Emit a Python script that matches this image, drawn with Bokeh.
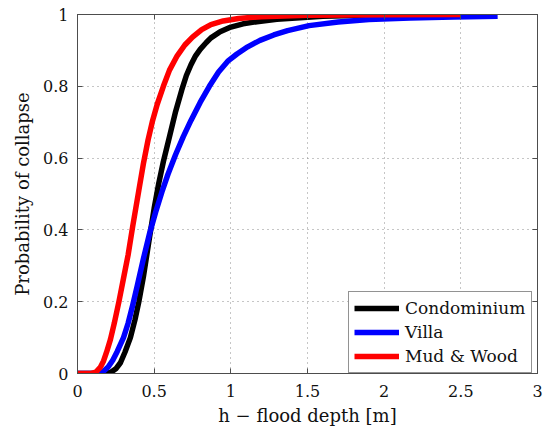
from bokeh.plotting import figure
from bokeh.models import FixedTicker, LinearAxis, Range1d
from bokeh.embed import file_html
from bokeh.resources import INLINE

# ---- data ----
x_ticks = [0, 0.5, 1, 1.5, 2, 2.5, 3]
x_tick_labels = ["0", "0.5", "1", "1.5", "2", "2.5", "3"]
y_ticks = [0, 0.2, 0.4, 0.6, 0.8, 1]
y_tick_labels = ["0", "0.2", "0.4", "0.6", "0.8", "1"]

condo_h = [0, 0.19, 0.22, 0.25, 0.28, 0.31, 0.345, 0.375, 0.40, 0.43, 0.47,
           0.50, 0.53, 0.56, 0.60, 0.64, 0.68, 0.71, 0.74, 0.77, 0.80, 0.84,
           0.87, 0.93, 1.0, 1.08, 1.17, 1.3, 1.6, 2.0, 2.5]
condo_p = [0, 0, 0.004, 0.013, 0.03, 0.06, 0.1, 0.15, 0.2, 0.27, 0.38,
           0.46, 0.53, 0.59, 0.66, 0.73, 0.79, 0.83, 0.86, 0.885, 0.903, 0.922,
           0.935, 0.952, 0.965, 0.974, 0.98, 0.987, 0.995, 0.999, 1.0]

villa_h = [0, 0.14, 0.17, 0.20, 0.23, 0.26, 0.30, 0.33, 0.36, 0.39, 0.43,
           0.47, 0.51, 0.55, 0.59, 0.64, 0.69, 0.74, 0.80, 0.86, 0.92, 0.98,
           1.04, 1.11, 1.19, 1.28, 1.37, 1.51, 1.7, 1.9, 2.17, 2.45, 2.74]
villa_p = [0, 0, 0.006, 0.018, 0.037, 0.062, 0.1, 0.14, 0.19, 0.245, 0.32,
           0.39, 0.45, 0.505, 0.555, 0.61, 0.66, 0.705, 0.755, 0.8, 0.84, 0.87,
           0.89, 0.91, 0.928, 0.943, 0.955, 0.969, 0.979, 0.986, 0.99, 0.993, 0.995]

mud_h = [0, 0.09, 0.12, 0.15, 0.17, 0.19, 0.215, 0.24, 0.27, 0.30, 0.33,
         0.36, 0.40, 0.43, 0.46, 0.49, 0.52, 0.56, 0.60, 0.65, 0.70, 0.75,
         0.81, 0.87, 0.95, 1.05, 1.2, 1.5, 2.0, 2.5]
mud_p = [0, 0, 0.004, 0.018, 0.035, 0.06, 0.095, 0.14, 0.2, 0.265, 0.33,
         0.41, 0.51, 0.585, 0.65, 0.705, 0.75, 0.8, 0.845, 0.885, 0.915, 0.937,
         0.958, 0.972, 0.982, 0.989, 0.994, 0.998, 0.999, 1.0]

series = [
    ("Condominium", condo_h, condo_p, "#000000"),
    ("Villa", villa_h, villa_p, "#0000ff"),
    ("Mud & Wood", mud_h, mud_p, "#ff0000"),
]

FONT = "DejaVu Serif"
FRAME = "#4d4d4d"

p = figure(width=545, height=430, x_range=Range1d(0, 3), y_range=Range1d(0, 1),
           output_backend="svg", toolbar_location=None,
           min_border_left=77, min_border_right=8, min_border_top=14,
           min_border_bottom=57)
p.background_fill_color = "white"
p.border_fill_color = "white"
p.outline_line_color = FRAME
p.outline_line_width = 1

for name, xs, ys, col in series:
    p.line(xs, ys, line_color=col, line_width=5.5, legend_label=name,
           line_join="round", line_cap="butt")

def style_axis(ax, ticks, labels, show_labels=True):
    ax.ticker = FixedTicker(ticks=ticks)
    ax.major_label_overrides = {t: l for t, l in zip(ticks, labels)}
    ax.minor_tick_line_color = None
    ax.major_tick_in = 5
    ax.major_tick_out = 0
    ax.major_tick_line_color = FRAME
    ax.axis_line_color = FRAME
    ax.major_label_text_font = FONT
    if show_labels:
        ax.major_label_text_font_size = "16px"
        ax.major_label_text_color = "#111111"
    else:
        ax.major_label_text_font_size = "1px"
        ax.major_label_text_color = None
    ax.axis_label_text_font = FONT
    ax.axis_label_text_font_size = "18px"
    ax.axis_label_text_font_style = "normal"
    ax.axis_label_text_color = "#111111"

xa = p.xaxis[0]
ya = p.yaxis[0]
style_axis(xa, x_ticks, x_tick_labels)
style_axis(ya, y_ticks, y_tick_labels)
xa.axis_label = "h \u2212 flood depth [m]"
ya.axis_label = "Probability of collapse"
xa.major_label_standoff = 11
xa.axis_label_standoff = 5
ya.major_label_standoff = 9
ya.axis_label_standoff = 7

top = LinearAxis()
right = LinearAxis()
style_axis(top, x_ticks, x_tick_labels, show_labels=False)
style_axis(right, y_ticks, y_tick_labels, show_labels=False)
top.major_label_standoff = 0
right.major_label_standoff = 0
p.add_layout(top, "above")
p.add_layout(right, "right")

p.xgrid.ticker = FixedTicker(ticks=x_ticks)
p.ygrid.ticker = FixedTicker(ticks=y_ticks)
for g in (p.xgrid, p.ygrid):
    g.grid_line_color = "#8c8c8c"
    g.grid_line_dash = "1 4"
    g.grid_line_width = 1

lg = p.legend[0]
lg.location = (271, 0)
lg.margin = 0
lg.padding = 5
lg.spacing = 2
lg.glyph_width = 45
lg.glyph_height = 20
lg.label_height = 22
lg.label_standoff = 6
lg.label_width = 121
lg.label_text_font = FONT
lg.label_text_font_size = "17px"
lg.label_text_color = "#111111"
lg.border_line_color = "#262626"
lg.border_line_width = 1
lg.background_fill_alpha = 1

open("out.html", "w").write(file_html(p, INLINE))
